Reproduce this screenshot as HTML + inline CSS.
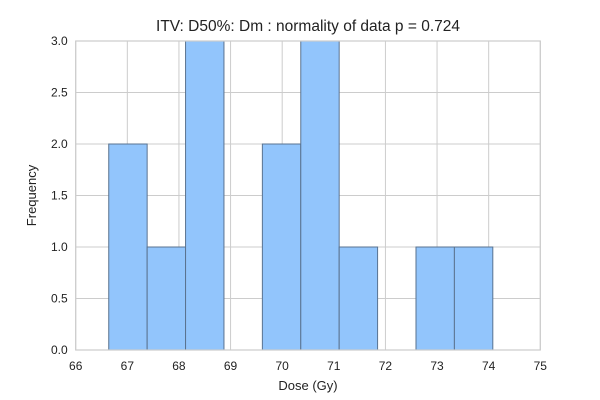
<!DOCTYPE html>
<html><head><meta charset="utf-8"><style>
body{margin:0;background:#fff;}
svg{display:block;font-family:"Liberation Sans",sans-serif;}
</style></head><body>
<svg id="chart" width="600" height="400"></svg>
<script>
const binStart = 66.64;
const binEnd = 74.08;
const counts = [2,1,3,0,2,3,1,0,1,1];
const xTicks = [66,67,68,69,70,71,72,73,74,75];
const yTicks = [0,0.5,1,1.5,2,2.5,3];
const yTickLabels = ["0.0","0.5","1.0","1.5","2.0","2.5","3.0"];

const L=75.7,R=540.3,T=41,B=350;
const x=v=>L+(v-66)/9*(R-L);
const y=v=>B-v/3*(B-T);
const NS="http://www.w3.org/2000/svg";
const svg=document.getElementById('chart');
function mk(tag,attrs,parent){const e=document.createElementNS(NS,tag);for(const k in attrs)e.setAttribute(k,attrs[k]);(parent||svg).appendChild(e);return e;}

const bg=mk('rect',{x:L,y:T,width:R-L,height:B-T,fill:'#fff'});



xTicks.forEach(t=>{
  const g=mk('line',{x1:x(t),x2:x(t),y1:T,y2:B,stroke:'#cccccc','stroke-width':1});
  
  
  const tx=mk('text',{x:x(t),y:B+20,'text-anchor':'middle','font-size':12,fill:'#222'});
  tx.textContent=t;
  
  
});
yTicks.forEach((t,i)=>{
  const g=mk('line',{x1:L,x2:R,y1:y(t),y2:y(t),stroke:'#cccccc','stroke-width':1});
  
  
  const tx=mk('text',{x:L-8,y:y(t)+4,'text-anchor':'end','font-size':12,fill:'#222'});
  tx.textContent=yTickLabels[i];
  
  
});

const w=(binEnd-binStart)/counts.length;
counts.forEach((c,i)=>{
  const x0=x(binStart+i*w),x1=x(binStart+(i+1)*w);
  const r=mk('rect',{x:x0,y:y(c),width:x1-x0,height:y(0)-y(c),fill:'#92c5fc',stroke:'#5a7390','stroke-width':1});
  
  
});

const fr=mk('rect',{x:L,y:T,width:R-L,height:B-T,fill:'none',stroke:'#cccccc','stroke-width':1.2});



const title=mk('text',{x:(L+R)/2,y:31,'text-anchor':'middle','font-size':15.5,fill:'#222'});
title.textContent='ITV: D50%: Dm : normality of data p = 0.724';



const xl=mk('text',{x:(L+R)/2,y:390,'text-anchor':'middle','font-size':13,fill:'#222'});
xl.textContent='Dose (Gy)';



const yl=mk('text',{x:0,y:0,'text-anchor':'middle','font-size':13,fill:'#222',transform:`translate(36,${(T+B)/2}) rotate(-90)`});
yl.textContent='Frequency';


</script>
</body></html>
